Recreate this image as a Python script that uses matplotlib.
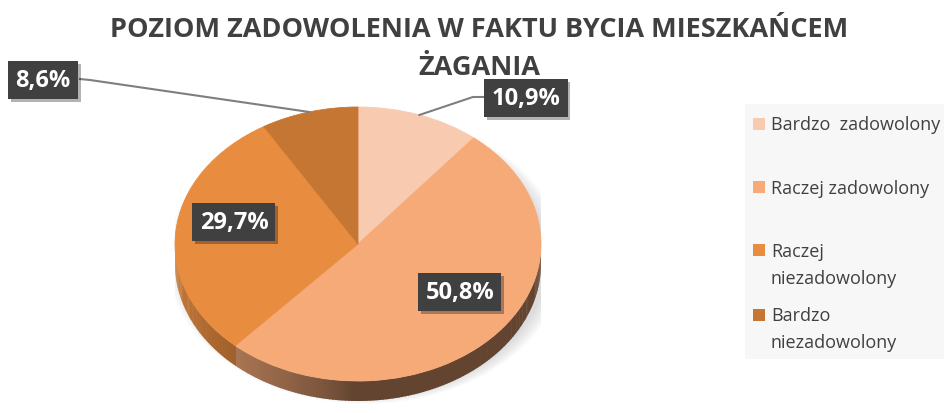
import numpy as np
import matplotlib.pyplot as plt
from matplotlib.patches import Polygon, Ellipse, Rectangle
import matplotlib.patheffects as pe

plt.rcParams['font.family'] = ['Open Sans', 'DejaVu Sans']

# Dane
categories = ['Bardzo  zadowolony', 'Raczej zadowolony', 'Raczej\nniezadowolony', 'Bardzo\nniezadowolony']
values = [10.9, 50.8, 29.7, 8.6]
labels = ['10,9%', '50,8%', '29,7%', '8,6%']
colors = ['#F8CAB0', '#F6AA78', '#E88C40', '#C57632']

title_lines = ['POZIOM ZADOWOLENIA W FAKTU BYCIA MIESZKAŃCEM', 'ŻAGANIA']
text_color = '#404040'

W, H = 944, 414
fig = plt.figure(figsize=(W / 100, H / 100), dpi=100)

# Tytul
for i, line in enumerate(title_lines):
    fig.text(479 / W, 1 - (37 + 38 * i) / H, line, ha='center', va='baseline',
             fontsize=19.5, fontweight='bold', color=text_color)

# Wykres kolowy (elipsa z glebia)
ax = fig.add_axes([175 / W, 0, 366 / W, (H - 108) / H])
wedges, _ = ax.pie(values, colors=colors, startangle=90, counterclock=False, radius=1,
                   wedgeprops=dict(linewidth=0.6, zorder=3))
for w in wedges:
    w.set_edgecolor(w.get_facecolor())
ax.set_aspect('auto')
ax.set_xlim(-1, 1)
ax.set_ylim(-(H - 245) / 137, 1)
ax.axis('off')

depth = 20 / 137

# cien pod wykresem
for k in range(8):
    ax.add_patch(Ellipse((0.04, -0.11), 2 * (1.0 + 0.012 * k), 2 * (1.0 + 0.008 * k),
                         facecolor='#808080', alpha=0.035, lw=0, zorder=1))


def shade(t):
    t = t % 360
    f = np.clip((268 - t) / 88, 0, 1) ** 0.7
    return 0.4 + 0.5 * f


# boczna sciana
for w, c in zip(wedges, colors):
    rgb = np.array(plt.matplotlib.colors.to_rgb(c))
    ts = np.arange(w.theta1, w.theta2, 1.0)
    ts = np.append(ts, w.theta2)
    for a, b in zip(ts[:-1], ts[1:]):
        mid = np.radians((a + b) / 2)
        if np.sin(mid) >= 0:
            continue
        ra, rb = np.radians(a), np.radians(b + 0.3)
        pts = [(np.cos(ra), np.sin(ra)), (np.cos(rb), np.sin(rb)),
               (np.cos(rb), np.sin(rb) - depth), (np.cos(ra), np.sin(ra) - depth)]
        ax.add_patch(Polygon(pts, closed=True, facecolor=rgb * shade((a + b) / 2),
                             lw=0, zorder=2))

# Etykiety
label_pos = [(0.918, 1.066), (0.557, -0.350), (-0.678, 0.161), (-1.721, 1.197)]
leader_pts = {0: [(0.628, 1.073), (0.689, 1.073)], 3: [(-1.464, 1.197), (-1.519, 1.204)]}

for i, (w, lab) in enumerate(zip(wedges, labels)):
    if i in leader_pts:
        mid = np.radians((w.theta1 + w.theta2) / 2)
        xs = [np.cos(mid)] + [p[0] for p in leader_pts[i]]
        ys = [np.sin(mid)] + [p[1] for p in leader_pts[i]]
        ax.plot(xs, ys, color='#7F7F7F', lw=1.5, zorder=4, clip_on=False)
    t = ax.text(label_pos[i][0], label_pos[i][1], lab, ha='center', va='center',
                fontsize=17, fontweight='bold', color='white', zorder=5, clip_on=False,
                bbox=dict(boxstyle='square,pad=0.3', fc='#404040', ec='none'))
    t.get_bbox_patch().set_path_effects([
        pe.SimplePatchShadow(offset=(2, -2), shadow_rgbFace='#000000', alpha=0.3),
        pe.Normal()])

# Legenda
fig.patches.append(Rectangle((745 / W, 1 - 360 / H), (W - 745) / W, 255 / H,
                             transform=fig.transFigure, facecolor='#F7F7F7',
                             edgecolor='none', zorder=0))
baselines = [130.5, 194, 257, 321.5]
for cat, c, yb in zip(categories, colors, baselines):
    fig.patches.append(Rectangle((753 / W, 1 - yb / H), 12 / W, 12 / H,
                                 transform=fig.transFigure, facecolor=c,
                                 edgecolor='none', zorder=1))
    for j, line in enumerate(cat.split('\n')):
        fig.text(771 / W, 1 - (yb + 27 * j) / H, line, ha='left', va='baseline',
                 fontsize=13, color=text_color)

plt.savefig('out.png', dpi=100)
